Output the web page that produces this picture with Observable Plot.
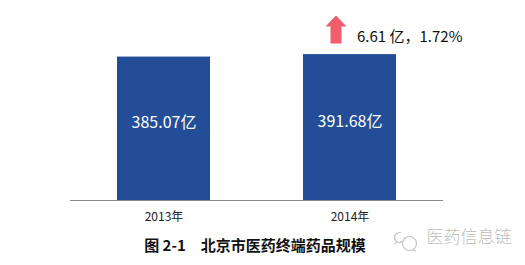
<!DOCTYPE html>
<html>
<head>
<meta charset="utf-8">
<script src="https://cdn.jsdelivr.net/npm/d3@7"></script>
<script src="https://cdn.jsdelivr.net/npm/@observablehq/plot@0.6"></script>
<style>
  html, body { margin: 0; padding: 0; background: #fff; }
</style>
</head>
<body>
<div id="chart"></div>
<script>
const years = ["2013年", "2014年"];
const values = [385.07, 391.68];
const valueLabels = ["385.07亿", "391.68亿"];
const changeLabel = "6.61 亿，1.72%";
const caption = "图 2-1\u2003北京市医药终端药品规模";
const watermark = "医药信息链";

const data = years.map((y, i) => ({year: y, value: values[i], label: valueLabels[i]}));

const upArrow = {
  draw(ctx, size) {
    const s = Math.sqrt(size / Math.PI) / 14;
    ctx.moveTo(0, -14 * s);
    ctx.lineTo(10.5 * s, -3 * s);
    ctx.lineTo(5.5 * s, -3 * s);
    ctx.lineTo(5.5 * s, 14 * s);
    ctx.lineTo(-5.5 * s, 14 * s);
    ctx.lineTo(-5.5 * s, -3 * s);
    ctx.lineTo(-10.5 * s, -3 * s);
    ctx.closePath();
  }
};

const bubbles = {
  draw(ctx, size) {
    const s = Math.sqrt(size / Math.PI) / 12;
    ctx.moveTo(-1 * s, -4 * s);
    ctx.arc(-6 * s, -4 * s, 5 * s, 0, Math.PI * 1.6);
    ctx.moveTo(-9 * s, 0.5 * s);
    ctx.lineTo(-11 * s, 3 * s);
    ctx.moveTo(11 * s, 2 * s);
    ctx.arc(4 * s, 2 * s, 7 * s, 0, Math.PI * 2);
    ctx.moveTo(8 * s, 8 * s);
    ctx.lineTo(10 * s, 10 * s);
  }
};

const chart = Plot.plot({
  width: 525,
  height: 265,
  marginLeft: 70,
  marginRight: 82,
  marginTop: 51,
  marginBottom: 65,
  style: {fontFamily: "'Noto Sans CJK SC', 'Noto Sans', sans-serif", fontSize: "12px", color: "#222", background: "#fff"},
  x: {domain: years, paddingInner: 0.5, paddingOuter: 0.25, label: null, tickSize: 0, tickPadding: 12},
  y: {domain: [0, 400], axis: null},
  marks: [
    Plot.barY(data, {x: "year", y: "value", fill: "#234e97"}),
    Plot.ruleY([0], {stroke: "#8c8c8c", strokeWidth: 1}),
    Plot.text(data, {x: "year", y: d => d.value / 2, text: "label", fill: "#fff", fontSize: 16, dy: -6}),
    Plot.dot([years[1]], {x: d => d, frameAnchor: "top", dx: -14, dy: -22, r: 14, symbol: upArrow, fill: "#f25d6b", stroke: null}),
    Plot.text([changeLabel], {x: () => years[1], frameAnchor: "top", text: d => d, textAnchor: "start", dx: 7, dy: -20, fontSize: 15, fill: "#111"}),
    Plot.text([caption], {frameAnchor: "bottom", text: d => d, dx: -2, dy: 50, fontSize: 15, fontWeight: "bold", fill: "#111"}),
    Plot.dot([watermark], {frameAnchor: "bottom-right", dx: -38, dy: 41, r: 12, symbol: bubbles, fill: "none", stroke: "#c4c4c4", strokeWidth: 1.2}),
    Plot.text([watermark], {frameAnchor: "bottom-right", text: d => d, textAnchor: "start", dx: -17, dy: 42, fontSize: 17, fontWeight: 300, fill: "#bdbdbd"})
  ]
});

document.getElementById("chart").appendChild(chart);
</script>
</body>
</html>
